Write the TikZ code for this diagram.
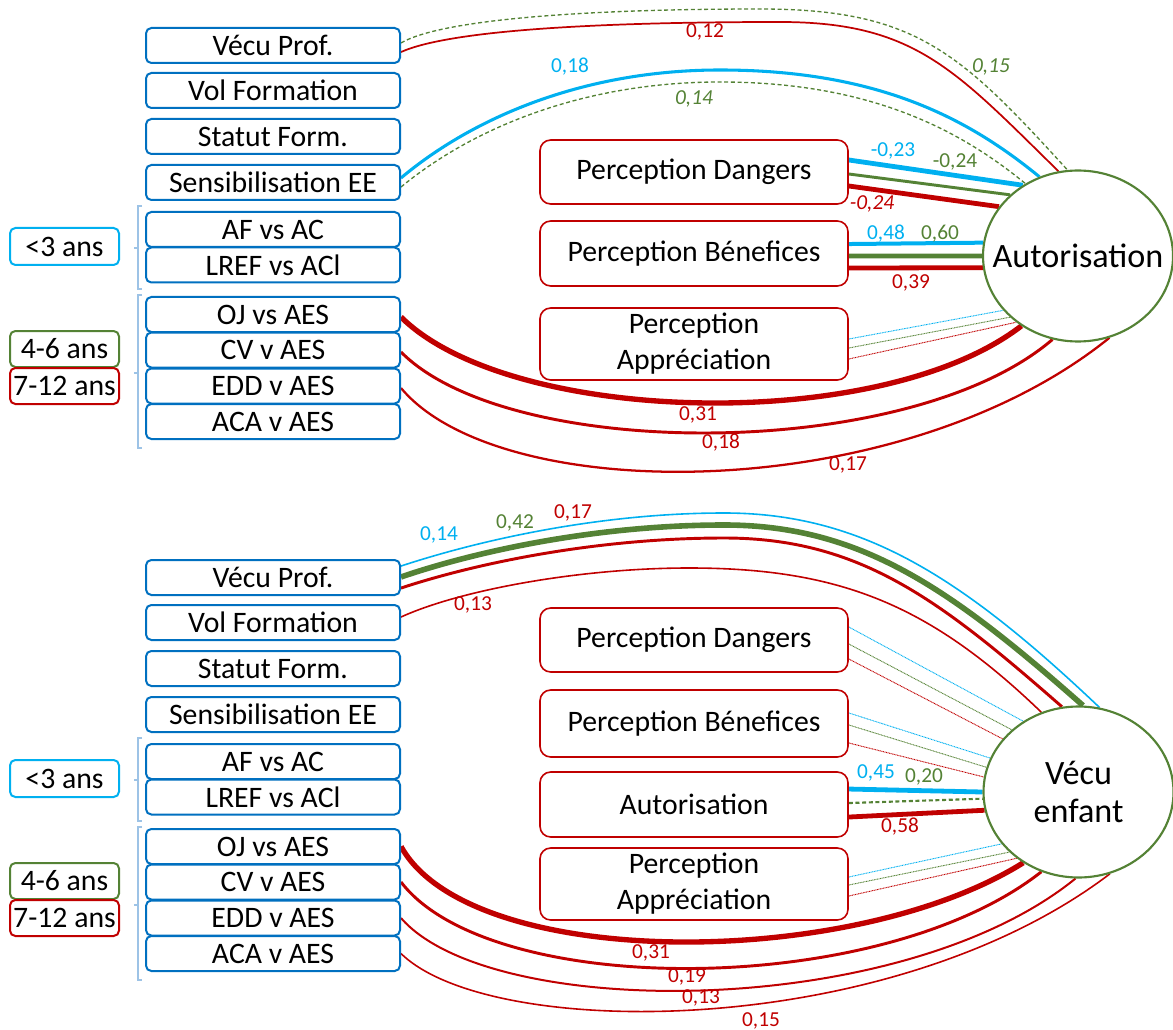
\documentclass[tikz,border=0pt]{standalone}
\usepackage{fontspec}
\setmainfont{Carlito}
\usetikzlibrary{shapes.geometric,backgrounds}
\definecolor{cy}{HTML}{00B0F0}
\definecolor{gr}{HTML}{548235}
\definecolor{rd}{HTML}{C00000}
\definecolor{bl}{HTML}{0070C0}
\definecolor{br}{HTML}{9DC3E6}
\begin{document}
\begin{tikzpicture}[x=0.75pt,y=-0.75pt,
  lbox/.style={draw=bl,line width=1.5pt,rounded corners=4pt,fill=white,minimum width=190.5pt,minimum height=26.25pt,inner sep=0pt,font=\fontsize{22.3}{25}\selectfont},
  rbox/.style={draw=rd,line width=1.2pt,rounded corners=8pt,fill=white,minimum width=231pt,inner sep=0pt,align=center,font=\fontsize{22.3}{27}\selectfont},
  agebox/.style={line width=1.5pt,rounded corners=4pt,fill=white,minimum width=81.75pt,minimum height=27pt,inner sep=0pt,font=\fontsize{22.3}{25}\selectfont},
  ell/.style={ellipse,draw=gr,line width=1.6pt,fill=white,minimum width=142.5pt,minimum height=128.25pt,inner sep=0pt},
  elltext/.style={align=center,inner sep=0pt,font=\fontsize{25.6}{29}\selectfont},
  lab/.style={font=\fontsize{16}{19}\selectfont,inner sep=0pt},
  labi/.style={font=\fontsize{16}{19}\selectfont\itshape,inner sep=0pt},
  dotl/.style={line width=0.7pt,dash pattern=on 0.7pt off 0.5pt},
  dashl/.style={dash pattern=on 3pt off 2pt},
  brk/.style={draw=br,line width=0.9pt}
]
\useasboundingbox (0,0) rectangle (1173,1030);

% ================= TOP PANEL =================
\node[lbox] (vpA) at (273,45.5) {Vécu Prof.};
\node[lbox] (vfA) at (273,90.5) {Vol Formation};
\node[lbox] (sfA) at (273,136.5) {Statut Form.};
\node[lbox] (seA) at (273,182.5) {Sensibilisation EE};
\node[lbox] (afA) at (273,229.5) {AF vs AC};
\node[lbox] (lrA) at (273,265) {LREF vs ACl};
\node[lbox] (ojA) at (273,314.5) {OJ vs AES};
\node[lbox] (cvA) at (273,350) {CV v AES};
\node[lbox] (edA) at (273,386) {EDD v AES};
\node[lbox] (acA) at (273,421.5) {ACA v AES};

\node[agebox,draw=cy,minimum height=27.75pt] (a3A) at (64.5,246.5) {<3 ans};
\node[agebox,draw=gr] (a46A) at (64.5,349) {4-6 ans};
\node[agebox,draw=rd] (a712A) at (64.5,386) {7-12 ans};

\draw[brk] (142,206) -- (138,206) -- (138,289) -- (142,289);
\draw[brk] (138,248) -- (134,248);
\draw[brk] (142,295) -- (138,295) -- (138,448) -- (142,448);
\draw[brk] (138,373) -- (134,373);

\node[rbox,minimum height=48pt] (pdA) at (694,172) {Perception Dangers};
\node[rbox,minimum height=48.75pt] (pbA) at (694,253.5) {Perception Bénefices};
\node[rbox,minimum height=54pt] (paA) at (694,344) {Perception\\Appréciation};

\node[ell] (aut) at (1078,256) {};
\node[elltext] (autT) at (aut.center) {Autorisation};

\begin{scope}[on background layer]
\draw[gr,dashl,line width=1pt] ([yshift=1.9pt]vpA.east) .. controls (440,20) and (580,9) .. (760,9) .. controls (915,9) and (960,52) .. (aut.97.5);
\draw[rd,line width=1.3pt] ([yshift=-4.9pt]vpA.east) .. controls (450,30) and (600,22) .. (780,22) .. controls (915,22) and (955,70) .. (aut.103.5);
\draw[cy,line width=2.3pt] ([yshift=3.4pt]seA.east) .. controls (470,120) and (580,70) .. (720,70) .. controls (880,70) and (970,120) .. (aut.116);
\draw[gr,dashl,line width=1pt] ([yshift=-3.4pt]seA.east) .. controls (470,130) and (580,82) .. (720,82) .. controls (870,82) and (960,130) .. (aut.126);

\draw[cy,line width=3.6pt] ([yshift=9pt]pdA.east) -- (aut.128);
\draw[gr,line width=2.2pt] ([yshift=-1.5pt]pdA.east) -- (aut.138);
\draw[rd,line width=3.6pt] ([yshift=-10.5pt]pdA.east) -- (aut.148);

\draw[cy,line width=3pt] ([yshift=7.1pt]pbA.east) -- (aut.172.7);
\draw[gr,line width=3.6pt] ([yshift=-1.9pt]pbA.east) -- (aut.180);
\draw[rd,line width=3.6pt] ([yshift=-10.9pt]pbA.east) -- (aut.187.3);

\draw[cy,dotl] ([yshift=3.75pt]paA.east) -- (aut.216.6);
\draw[gr,dotl] ([yshift=-3pt]paA.east) -- (aut.222.3);
\draw[rd,dotl] ([yshift=-11.25pt]paA.east) -- (aut.227.2);

\draw[rd,line width=4pt] ([yshift=-1.9pt]ojA.east) .. controls (510,425) and (880,435) .. (aut.231.3);
\draw[rd,line width=2.2pt] ([yshift=-1.5pt]cvA.east) .. controls (510,462) and (910,462) .. (aut.253.2);
\draw[rd,line width=1.7pt] ([yshift=-1.5pt]edA.east) .. controls (500,507) and (900,507) .. (aut.291.3);
\end{scope}

\node[lab,rd] (t1) at (705,32) {0,12};
\node[labi,gr] (t2) at (991,67) {0,15};
\node[lab,cy] (t3) at (570,67) {0,18};
\node[labi,gr] (t4) at (694,99) {0,14};
\node[lab,cy] (t5) at (893,151) {-0,23};
\node[lab,gr] (t6) at (955,162) {-0,24};
\node[labi,rd] (t7) at (872,204) {-0,24};
\node[lab,cy] (t8) at (886,234) {0,48};
\node[lab,gr] (t9) at (940,234) {0,60};
\node[lab,rd] (t10) at (911,283) {0,39};
\node[lab,rd] (t11) at (698,415) {0,31};
\node[lab,rd] (t12) at (721,443) {0,18};
\node[lab,rd] (t13) at (848,465) {0,17};

% ================= BOTTOM PANEL =================
\node[lbox] (vpB) at (273,577.5) {Vécu Prof.};
\node[lbox] (vfB) at (273,622.5) {Vol Formation};
\node[lbox] (sfB) at (273,668.5) {Statut Form.};
\node[lbox] (seB) at (273,714.5) {Sensibilisation EE};
\node[lbox] (afB) at (273,761.5) {AF vs AC};
\node[lbox] (lrB) at (273,797) {LREF vs ACl};
\node[lbox] (ojB) at (273,846.5) {OJ vs AES};
\node[lbox] (cvB) at (273,882) {CV v AES};
\node[lbox] (edB) at (273,918) {EDD v AES};
\node[lbox] (acB) at (273,953.5) {ACA v AES};

\node[agebox,draw=cy,minimum height=27.75pt] (a3B) at (64.5,778.5) {<3 ans};
\node[agebox,draw=gr] (a46B) at (64.5,881) {4-6 ans};
\node[agebox,draw=rd] (a712B) at (64.5,918) {7-12 ans};

\draw[brk] (142,738) -- (138,738) -- (138,821) -- (142,821);
\draw[brk] (138,780) -- (134,780);
\draw[brk] (142,827) -- (138,827) -- (138,980) -- (142,980);
\draw[brk] (138,905) -- (134,905);

\node[rbox,minimum height=48pt] (pdB) at (694,640) {Perception Dangers};
\node[rbox,minimum height=50.25pt] (pbB) at (694,723.5) {Perception Bénefices};
\node[rbox,minimum height=48.75pt] (auB) at (694,804.5) {Autorisation};
\node[rbox,minimum height=54pt] (paB) at (694,884) {Perception\\Appréciation};

\node[ell] (venf) at (1078.5,792) {};
\node[elltext] (venfT) at (venf.center) {Vécu\\enfant};

\begin{scope}[on background layer]
\draw[cy,line width=1.2pt] ([yshift=8.6pt]vpB.east) .. controls (480,540) and (600,513) .. (724,513) .. controls (860,513) and (960,575) .. (venf.76.4);
\draw[gr,line width=4.2pt] ([yshift=0.4pt]vpB.east) .. controls (480,550) and (600,525) .. (724,525) .. controls (860,525) and (950,588) .. (venf.87.6);
\draw[rd,line width=2.2pt] ([yshift=-7.9pt]vpB.east) .. controls (480,562) and (600,538) .. (724,538) .. controls (860,538) and (940,600) .. (venf.101.1);
\draw[rd,line width=1.2pt] ([yshift=4.1pt]vfB.east) .. controls (460,590) and (580,568) .. (689,568) .. controls (840,568) and (930,605) .. (venf.115.4);

\draw[cy,dotl] ([yshift=9.75pt]pdB.east) -- (venf.128.4);
\draw[gr,dotl] ([yshift=-3pt]pdB.east) -- (venf.137.4);
\draw[rd,dotl] ([yshift=-14.25pt]pdB.east) -- (venf.145.8);

\draw[cy,dotl] ([yshift=7.9pt]pbB.east) -- (venf.159);
\draw[gr,dotl] ([yshift=-1.1pt]pbB.east) -- (venf.165.5);
\draw[rd,dotl] ([yshift=-14.6pt]pbB.east) -- (venf.171);

\draw[cy,line width=3.6pt] ([yshift=11.6pt]auB.east) -- (venf.180);
\draw[gr,dashl,line width=1.6pt] ([yshift=1.1pt]auB.east) -- (venf.184.2);
\draw[rd,line width=3.6pt] ([yshift=-9.4pt]auB.east) -- (venf.191.3);

\draw[cy,dotl] ([yshift=5.25pt]paB.east) -- (venf.214.4);
\draw[gr,dotl] ([yshift=-0.75pt]paB.east) -- (venf.221.6);
\draw[rd,dotl] ([yshift=-9pt]paB.east) -- (venf.227);

\draw[rd,line width=4pt] (ojB.east) .. controls (470,971) and (850,971) .. (venf.232);
\draw[rd,line width=2.2pt] (cvB.east) .. controls (490,999) and (880,999) .. (venf.245.5);
\draw[rd,line width=1.5pt] (edB.east) .. controls (490,1021) and (900,1021) .. (venf.268);
\draw[rd,line width=1.2pt] (acB.east) .. controls (490,1041) and (890,1041) .. (venf.291);
\end{scope}

\node[lab,cy] (u1) at (439,535) {0,14};
\node[lab,gr] (u2) at (515,523) {0,42};
\node[lab,rd] (u3) at (573,513) {0,17};
\node[lab,rd] (u4) at (473,605) {0,13};
\node[lab,cy] (u5) at (876,773) {0,45};
\node[lab,gr] (u6) at (924,777) {0,20};
\node[lab,rd] (u7) at (900,827) {0,58};
\node[lab,rd] (u8) at (651,953) {0,31};
\node[lab,rd] (u9) at (687,977) {0,19};
\node[lab,rd] (u10) at (701,998) {0,13};
\node[lab,rd] (u11) at (761,1021) {0,15};
\end{tikzpicture}
\end{document}
